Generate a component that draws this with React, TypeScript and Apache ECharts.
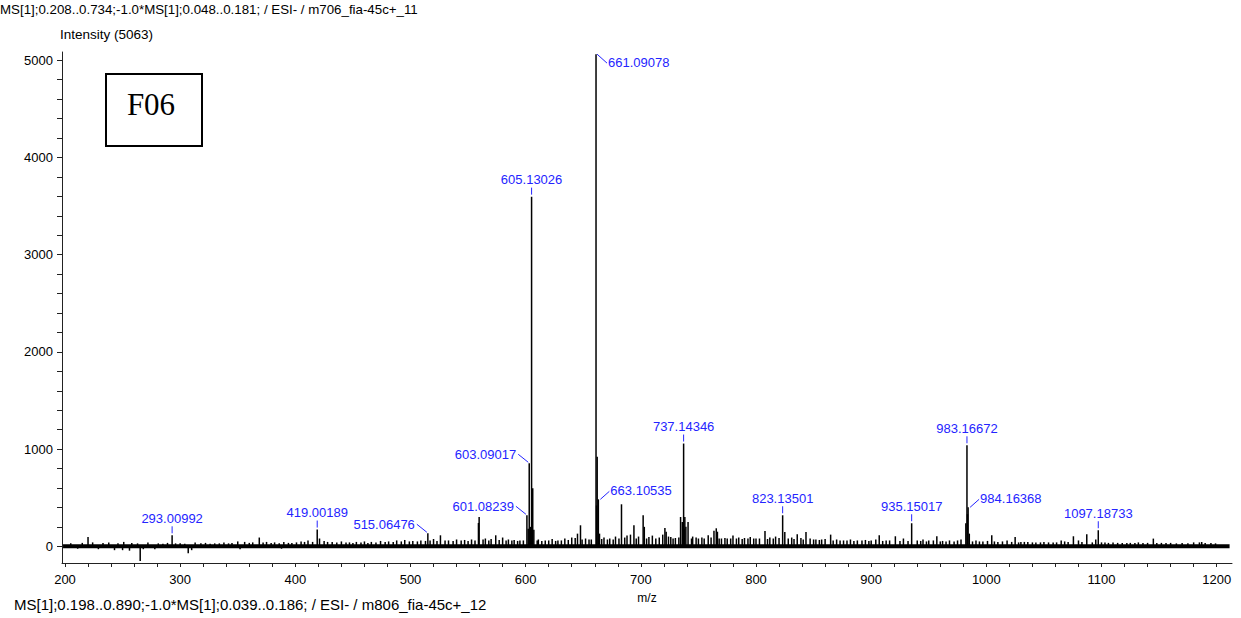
import React, { useEffect, useRef } from "react";
import * as echarts from "echarts";

// ---- data ----
const headerText = "MS[1];0.208..0.734;-1.0*MS[1];0.048..0.181; / ESI- / m706_fia-45c+_11";
const footerText = "MS[1];0.198..0.890;-1.0*MS[1];0.039..0.186; / ESI- / m806_fia-45c+_12";
const yTitle = "Intensity (5063)";
const xTitle = "m/z";
const sampleTag = "F06";

const labelText = [
  "293.00992", "419.00189", "515.06476", "601.08239", "603.09017", "605.13026",
  "661.09078", "663.10535", "737.14346", "823.13501", "935.15017", "983.16672",
  "984.16368", "1097.18733",
];
const labelIntensity = [113, 172, 134, 319, 854, 3597, 5063, 483, 1057, 319, 237, 1039, 401, 165];

const otherMz = [
  220, 265.3, 307, 368.7, 526, 559.0, 559.6, 574, 602.2, 604.1, 605.6, 606.13, 607.1, 661.6,
  662.09, 664.1, 647.6, 683.2, 694, 702, 703, 720.9, 722, 734.5, 736, 737.6, 738.2, 739.1,
  741, 758.5, 763.5, 765.5, 766.5, 807.8, 825, 835.8, 843.4, 864.8, 907, 921, 957, 982.2,
  983.6, 985.2, 1004.7, 1025, 1075.6, 1087.2, 1145, 1187,
];
const otherIntensity = [
  96, -151, -72, 90, 113, 240, 301, 113, 180, 200, 260, 597, 170, 420,
  920, 130, 216, 432, 216, 319, 200, 188, 150, 301, 250, 180, 301, 200,
  250, 113, 160, 185, 150, 158, 147, 123, 147, 120, 113, 103, 103, 237,
  330, 130, 113, 96, 103, 123, 79, 44,
];

const noiseMz = [
  205, 211, 215, 224, 229, 233, 238, 243, 246, 250, 251, 256, 258, 263, 268, 272, 278, 281,
  285, 289, 296, 300, 304, 310, 313, 318, 322, 326, 330, 334, 338, 342, 345, 350, 352, 356,
  360, 363, 372, 375, 379, 382, 386, 388, 390, 394, 397, 401, 405, 408, 411, 415, 421, 425,
  428, 432, 436, 440, 444, 447, 450, 453, 457, 460, 463, 466, 470, 474, 478, 481, 485, 488,
  492, 495, 499, 502, 506, 509, 513, 517, 520, 523, 530, 533, 537, 540, 544, 547, 550, 553,
  556, 563, 565, 568, 570, 577, 580, 583, 585, 588, 590, 593, 595, 598, 610, 611, 614, 617,
  620, 623, 626, 628, 631, 634, 637, 640, 643, 645, 649, 652, 655, 657, 666, 668, 671, 673,
  676, 678, 681, 686, 688, 691, 696, 698, 705, 707, 710, 713, 716, 719, 724, 726, 728, 730,
  733, 744, 745, 748, 750, 753, 755, 761, 768, 770, 773, 775, 778, 780, 783, 785, 788, 790,
  793, 795, 798, 800, 803, 810, 812, 815, 817, 820, 828, 831, 833, 839, 841, 847, 850, 852,
  855, 857, 860, 867, 870, 873, 876, 879, 882, 885, 888, 892, 895, 898, 900, 904, 910, 913,
  916, 925, 928, 932, 940, 943, 945, 948, 950, 954, 960, 962, 965, 968, 972, 975, 978, 988,
  991, 994, 997, 1001, 1007, 1010, 1014, 1018, 1022, 1028, 1030, 1033, 1036, 1040, 1043, 1047,
  1050, 1054, 1058, 1061, 1065, 1068, 1071, 1080, 1083, 1092, 1095, 1100, 1103, 1106, 1110,
  1114, 1118, 1122, 1125, 1129, 1132, 1136, 1140, 1148, 1152, 1156, 1160, 1165, 1170, 1175,
  1180, 1185, 1190, 1195, 1199, 1203, 1207,
];
const noiseIntensity = [
  30, -25, 35, 40, -30, 35, 40, -40, 30, -40, 45, -45, 35, 30, -30, 40, -30, 30,
  25, 35, 30, 30, 25, -40, 40, 30, 35, 25, 30, 30, 40, 30, 35, 50, -30, 45,
  35, 40, 40, 45, 35, 40, 30, -25, 45, 35, 35, 40, 50, 45, 60, 45, 80, 55,
  45, 45, 40, 50, 40, 40, 35, 45, 40, 50, 35, 45, 40, 55, 45, 50, 45, 60,
  50, 65, 50, 55, 50, 60, 55, 60, 75, 55, 60, 60, 55, 70, 60, 65, 55, 70,
  60, 70, 80, 60, 75, 65, 90, 60, 70, 60, 65, 55, 60, 60, 60, 70, 55, 60,
  60, 75, 55, 60, 60, 80, 65, 90, 85, 130, 70, 80, 70, 70, 75, 90, 70, 80,
  70, 100, 80, 90, 110, 120, 80, 100, 80, 95, 110, 80, 90, 120, 100, 95,
  80, 85, 90, 80, 100, 90, 80, 90, 80, 90, 80, 80, 85, 80, 80, 110, 80, 90,
  75, 85, 80, 95, 80, 80, 80, 75, 90, 80, 100, 85, 80, 90, 75, 85, 70, 80,
  70, 70, 65, 70, 75, 60, 70, 60, 60, 60, 70, 55, 60, 60, 65, 55, 60, 70,
  55, 60, 60, 55, 80, 55, 60, 55, 70, 50, 60, 60, 50, 55, 50, 60, 50, 60,
  70, 50, 60, 50, 50, 55, 50, 45, 50, 60, 45, 40, 45, 45, 45, 40,
  40, 40, 45, 40, 40, 40, 60, 50, 45, 60, 45, 40, 70, 40, 40,
  35, 40, 35, 35, 35, 35, 35, 40, 35, 35, 35, 35, 35, 35, 30,
  35, 30, 40, 40, 35, 35, 30,
];

const baselineRange = [198.3, 1211.2];
const xLabelValues = [200, 300, 400, 500, 600, 700, 800, 900, 1000, 1100, 1200];
const xTickValues = Array.from({ length: 51 }, (_, i) => 200 + i * 20);
const yLabelValues = [0, 1000, 2000, 3000, 4000, 5000];
const yTickValues = Array.from({ length: 26 }, (_, i) => i * 200);

// ---- styles ----
const FONT = "'Liberation Sans', Arial, sans-serif";
const BLUE = "#2424ff";
const labelPlacement: Record<string, string> = {
  "661.09078": "rightDown",
  "663.10535": "rightUp",
  "984.16368": "rightUp",
  "603.09017": "left",
  "601.08239": "left",
  "515.06476": "left",
};

export default function App() {
  const ref = useRef<HTMLDivElement>(null);

  useEffect(() => {
    if (!ref.current) return;
    const chart = echarts.init(ref.current, null, { renderer: "svg" });

    const labelMz = labelText.map(Number);
    const spectrum: number[][] = [];
    labelMz.forEach((m, i) => spectrum.push([m, labelIntensity[i]]));
    otherMz.forEach((m, i) => spectrum.push([m, otherIntensity[i]]));
    noiseMz.forEach((m, i) => spectrum.push([m, noiseIntensity[i]]));

    const option: any = {
      animation: false,
      grid: { left: 62, top: 52, width: 1170, height: 511, containLabel: false },
      xAxis: {
        type: "value",
        min: 197.4,
        max: 1213.3,
        name: xTitle,
        nameLocation: "middle",
        nameGap: 29,
        nameTextStyle: { fontFamily: FONT, fontSize: 12, color: "#000" },
        axisLine: { onZero: false, lineStyle: { color: "#222", width: 1 } },
        axisTick: { show: true, length: 4, customValues: xTickValues, lineStyle: { color: "#222" } },
        axisLabel: {
          customValues: xLabelValues,
          formatter: (v: number) => String(v),
          fontFamily: FONT,
          fontSize: 13,
          color: "#000",
          margin: 10,
        },
        splitLine: { show: false },
      },
      yAxis: {
        type: "value",
        min: -172,
        max: 5085,
        axisLine: { show: true, onZero: false, lineStyle: { color: "#222", width: 1 } },
        axisTick: { show: true, length: 5, customValues: yTickValues, lineStyle: { color: "#222" } },
        axisLabel: {
          customValues: yLabelValues,
          formatter: (v: number) => String(v),
          fontFamily: FONT,
          fontSize: 13,
          color: "#000",
          margin: 9,
        },
        splitLine: { show: false },
      },
      series: [
        {
          type: "line",
          data: [[baselineRange[0], 0], [baselineRange[1], 0]],
          symbol: "none",
          lineStyle: { color: "#000", width: 4 },
          silent: true,
        },
        {
          type: "custom",
          data: spectrum,
          clip: true,
          renderItem: (params: any, api: any) => {
            const m = api.value(0);
            const v = api.value(1);
            const p0 = api.coord([m, 0]);
            const p1 = api.coord([m, v]);
            return {
              type: "line",
              shape: { x1: p0[0], y1: p0[1], x2: p1[0], y2: p1[1] },
              style: { stroke: "#000", lineWidth: 1.5 },
            };
          },
        },
        {
          type: "custom",
          data: labelMz.map((m, i) => [m, labelIntensity[i]]),
          clip: false,
          renderItem: (params: any, api: any) => {
            const m = api.value(0);
            const v = api.value(1);
            const [px, py] = api.coord([m, v]);
            const text = labelText[params.dataIndex];
            const kind = labelPlacement[text] || "top";
            let l: number[];
            let tx: number;
            let ty: number;
            let align: string;
            if (kind === "top") {
              l = [px, py - 9, px, py - 2];
              tx = px; ty = py - 17; align = "center";
            } else if (kind === "rightDown") {
              l = [px + 1, py, px + 11, py + 9];
              tx = px + 12; ty = py + 8; align = "left";
            } else if (kind === "rightUp") {
              l = [px + 2, py, px + 11, py - 8];
              tx = px + 12; ty = py - 9; align = "left";
            } else {
              l = [px - 1, py - 1, px - 11, py - 9];
              tx = px - 13; ty = py - 9; align = "right";
            }
            return {
              type: "group",
              children: [
                {
                  type: "line",
                  shape: { x1: l[0], y1: l[1], x2: l[2], y2: l[3] },
                  style: { stroke: BLUE, lineWidth: 1 },
                },
                {
                  type: "text",
                  x: tx,
                  y: ty,
                  style: {
                    text,
                    fill: BLUE,
                    font: `13px ${FONT}`,
                    align,
                    verticalAlign: "middle",
                  },
                },
              ],
            };
          },
        },
      ],
      graphic: [
        {
          type: "text",
          left: 0,
          top: 3,
          style: { text: headerText, font: `13.3px ${FONT}`, fill: "#000" },
        },
        {
          type: "text",
          left: 60,
          top: 27,
          style: { text: yTitle, font: `13.5px ${FONT}`, fill: "#000" },
        },
        {
          type: "text",
          left: 14,
          top: 597,
          style: { text: footerText, font: `15px ${FONT}`, fill: "#000" },
        },
        {
          type: "rect",
          shape: { x: 106, y: 74, width: 96, height: 72 },
          style: { fill: "#fff", stroke: "#000", lineWidth: 2 },
        },
        {
          type: "text",
          x: 151,
          y: 104,
          style: {
            text: sampleTag,
            font: `31px 'Liberation Serif', 'Times New Roman', serif`,
            fill: "#000",
            align: "center",
            verticalAlign: "middle",
          },
        },
      ],
    };

    chart.setOption(option);
    return () => chart.dispose();
  }, []);

  return (
    <div
      ref={ref}
      style={{ position: "fixed", left: 0, top: 0, width: 1241, height: 618, background: "#fff" }}
    />
  );
}
